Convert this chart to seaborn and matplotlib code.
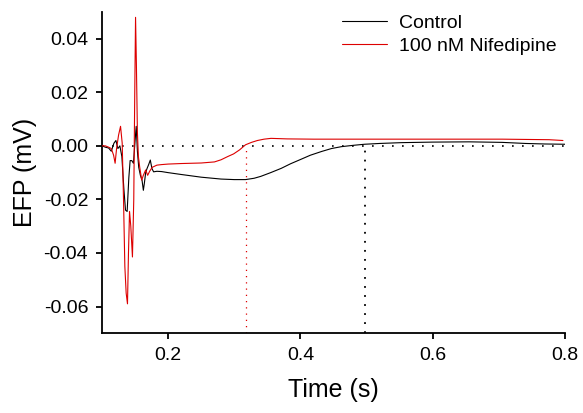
import numpy as np
import pandas as pd
import matplotlib
matplotlib.use("Agg")
import matplotlib.pyplot as plt
import seaborn as sns

# traces (time in s, EFP in mV)
ctrl_t = [0.100, 0.105, 0.110, 0.114, 0.118, 0.121, 0.124, 0.127, 0.130, 0.133,
          0.1355, 0.138, 0.1405, 0.1425, 0.145, 0.1475, 0.150, 0.1517, 0.1535, 0.1555,
          0.158, 0.1605, 0.1625, 0.164, 0.166, 0.168, 0.1705, 0.173, 0.1755, 0.178,
          0.183, 0.19, 0.20, 0.22, 0.25, 0.28, 0.30, 0.317, 0.33, 0.34,
          0.355, 0.371, 0.385, 0.401, 0.415, 0.432, 0.447, 0.462, 0.48, 0.497,
          0.52, 0.553, 0.60, 0.655, 0.705, 0.74, 0.77, 0.80]
ctrl_v = [0.0, -0.0005, -0.0008, -0.002, 0.001, 0.002, -0.001, 0.0, -0.004, -0.016,
          -0.024, -0.0245, -0.012, -0.0055, -0.0055, -0.0065, 0.002, 0.0073, -0.002, -0.008,
          -0.011, -0.0128, -0.0166, -0.014, -0.010, -0.0085, -0.007, -0.0053, -0.0085, -0.0097,
          -0.0095, -0.0096, -0.0100, -0.0107, -0.0117, -0.0124, -0.0126, -0.0126, -0.0121, -0.0114,
          -0.0100, -0.0084, -0.0067, -0.0050, -0.0035, -0.0021, -0.0010, -0.0003, 0.0002, 0.0006,
          0.0009, 0.0012, 0.0014, 0.0015, 0.0013, 0.0009, 0.0007, 0.0006]

nif_t = [0.100, 0.105, 0.110, 0.114, 0.1175, 0.1198, 0.122, 0.125, 0.128, 0.1305,
         0.1325, 0.1345, 0.1365, 0.1385, 0.140, 0.1416, 0.1435, 0.146, 0.148, 0.1495,
         0.1507, 0.152, 0.1535, 0.155, 0.157, 0.160, 0.1625, 0.166, 0.169, 0.172,
         0.176, 0.183, 0.19, 0.20, 0.22, 0.25, 0.27, 0.28, 0.29, 0.299,
         0.308, 0.317, 0.326, 0.335, 0.345, 0.3555, 0.38, 0.42, 0.47, 0.52,
         0.58, 0.64, 0.705, 0.74, 0.776, 0.797]
nif_v = [0.0, 0.0, -0.0005, -0.001, -0.0035, -0.0065, -0.001, 0.004, 0.0073, 0.001,
         -0.020, -0.045, -0.055, -0.059, -0.040, -0.0245, -0.030, -0.0415, -0.020, 0.020,
         0.048, 0.030, 0.005, -0.004, -0.008, -0.0128, -0.011, -0.009, -0.011, -0.0095,
         -0.008, -0.0072, -0.0070, -0.0068, -0.0066, -0.0064, -0.0060, -0.0052, -0.0040, -0.0030,
         -0.0015, 0.0004, 0.0013, 0.0020, 0.0025, 0.0028, 0.0026, 0.0025, 0.0025, 0.0025,
         0.0025, 0.0025, 0.0025, 0.0024, 0.0023, 0.0020]

labels = ["Control", "100 nM Nifedipine"]
ctrl_end = 0.498   # repolarisation marks
nif_end = 0.317

df = pd.concat([
    pd.DataFrame({"t": ctrl_t, "efp": ctrl_v, "cond": labels[0]}),
    pd.DataFrame({"t": nif_t, "efp": nif_v, "cond": labels[1]}),
])

sns.set_style("ticks")
plt.rcParams["font.family"] = ["Liberation Sans", "DejaVu Sans"]
plt.rcParams["text.color"] = "black"
plt.rcParams["axes.labelcolor"] = "black"
plt.rcParams["xtick.color"] = "black"
plt.rcParams["ytick.color"] = "black"

fig = plt.figure(figsize=(5.83, 4.13), dpi=100)
ax = fig.add_axes([0.175, 0.193, 0.794, 0.778])

ax.axhline(0, color="black", lw=1.2, ls=(0, (1, 5)), zorder=1)
ax.vlines(nif_end, -0.07, 0.0, color="#dd0000", lw=0.9, ls=(0, (1, 4)), zorder=1)
ax.vlines(ctrl_end, -0.07, -0.001, color="black", lw=1.3, ls=(0, (1, 4)), zorder=1)

sns.lineplot(data=df, x="t", y="efp", hue="cond", hue_order=labels,
             palette=["black", "#dd0000"], estimator=None, sort=False,
             lw=0.8, ax=ax, zorder=3)

ax.set_xlim(0.1, 0.8)
ax.set_ylim(-0.07, 0.05)
ax.set_xticks([0.2, 0.4, 0.6, 0.8])
ax.set_yticks([-0.06, -0.04, -0.02, 0.00, 0.02, 0.04])
ax.set_xticklabels(["0.2", "0.4", "0.6", "0.8"])
ax.set_yticklabels(["-0.06", "-0.04", "-0.02", "0.00", "0.02", "0.04"])
ax.tick_params(labelsize=14, width=1.3, length=4, pad=6, color="black", labelcolor="black")
for s in ["left", "bottom"]:
    ax.spines[s].set_linewidth(1.3)
    ax.spines[s].set_color("black")
sns.despine(ax=ax)

ax.set_xlabel("Time (s)", fontsize=18, labelpad=10, color="black")
ax.set_ylabel("EFP (mV)", fontsize=18, labelpad=5, color="black")

ax.legend(loc="upper left", bbox_to_anchor=(0.518, 0.993), frameon=False,
          fontsize=14, handlelength=2.3, handletextpad=0.65, labelspacing=0.3,
          borderpad=0, borderaxespad=0, labelcolor="black")

fig.savefig("out.png", dpi=100)
